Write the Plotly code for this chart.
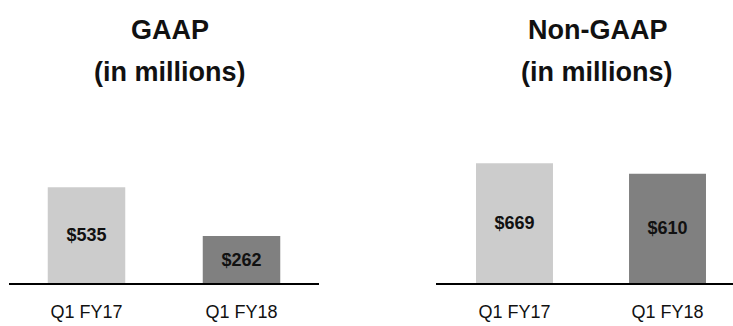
import plotly.graph_objects as go

categories = ["Q1 FY17", "Q1 FY18"]
gaap_values = [535, 262]
nongaap_values = [669, 610]
bar_colors = ["#cccccc", "#808080"]
titles = ["GAAP", "Non-GAAP"]
subtitle = "(in millions)"

W, H = 733, 326
FONT = "Liberation Sans, Arial, sans-serif"

fig = go.Figure()
fig.add_trace(go.Bar(
    x=categories, y=gaap_values, xaxis="x", yaxis="y",
    marker=dict(color=bar_colors, line=dict(width=0)), width=0.5,
    text=[f"${v}" for v in gaap_values], textposition="inside",
    insidetextanchor="middle", textangle=0,
    textfont=dict(family=FONT, size=18, color="#111111", weight="bold"),
    showlegend=False, hoverinfo="skip"))
fig.add_trace(go.Bar(
    x=categories, y=nongaap_values, xaxis="x2", yaxis="y2",
    marker=dict(color=bar_colors, line=dict(width=0)), width=0.503,
    text=[f"${v}" for v in nongaap_values], textposition="inside",
    insidetextanchor="middle", textangle=0,
    textfont=dict(family=FONT, size=18, color="#111111", weight="bold"),
    showlegend=False, hoverinfo="skip"))

ybottom = (H - 283) / H
ymax = 283 / 0.179

axis_common = dict(showline=True, linecolor="black", linewidth=2, showgrid=False,
                   zeroline=False, ticks="outside", ticklen=11,
                   tickcolor="rgba(0,0,0,0)", type="category",
                   tickfont=dict(family=FONT, size=18, color="#111111"))
yaxis_common = dict(visible=False, range=[0, ymax], domain=[ybottom, 1], fixedrange=True)

fig.update_layout(
    width=W, height=H,
    margin=dict(l=0, r=0, t=0, b=0),
    paper_bgcolor="white", plot_bgcolor="white",
    xaxis=dict(domain=[9 / W, 319 / W], range=[-0.5, 1.5], anchor="y", **axis_common),
    yaxis=dict(anchor="x", **yaxis_common),
    xaxis2=dict(domain=[436 / W, 1], range=[-0.513, 1.428], anchor="y2", **axis_common),
    yaxis2=dict(anchor="x2", **yaxis_common),
    uniformtext=dict(mode=False),
)

title_centers = [170, 597]
for t, cx in zip(titles, title_centers):
    fig.add_annotation(text=f"<b>{t}</b>", x=cx / W, y=1 - 30 / H, xref="paper", yref="paper",
                       xanchor="center", yanchor="middle", showarrow=False,
                       font=dict(family=FONT, size=27, color="#111111"))
    fig.add_annotation(text=f"<b>{subtitle}</b>", x=cx / W, y=1 - 72 / H, xref="paper", yref="paper",
                       xanchor="center", yanchor="middle", showarrow=False,
                       font=dict(family=FONT, size=27, color="#111111"))

fig.write_html("out.html")
